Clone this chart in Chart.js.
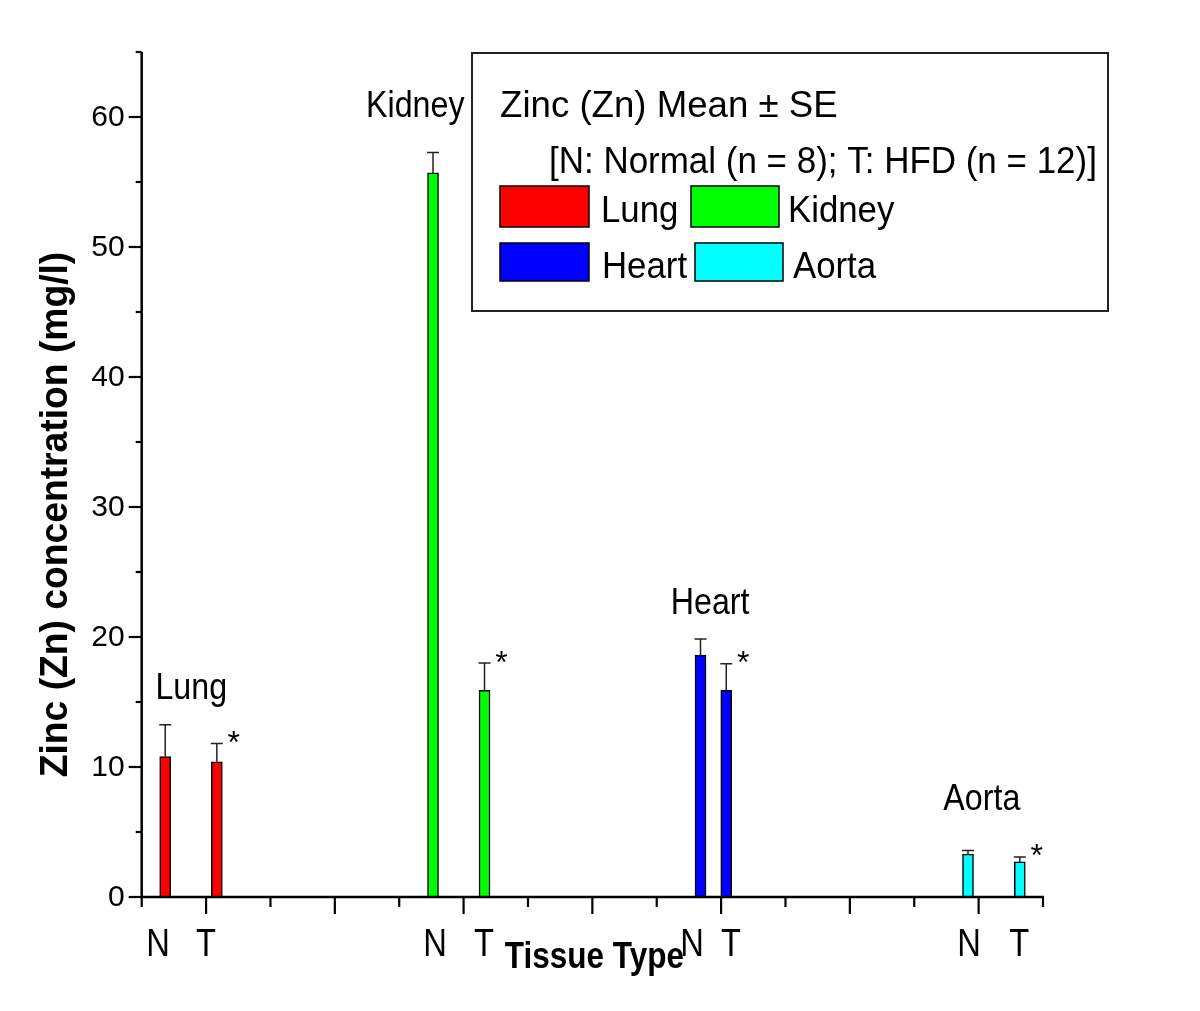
<!DOCTYPE html>
<html><head><meta charset="utf-8">
<script src="https://cdn.jsdelivr.net/npm/chart.js@4.4.1/dist/chart.umd.min.js"></script>
<style>html,body{margin:0;padding:0;background:#fff;}#wrap{width:1200px;height:1011px;}</style>
</head><body><div id="wrap"><canvas id="c" width="1200" height="1011"></canvas></div>
<script>
// ---- data ----
const tissues = ['Lung', 'Kidney', 'Heart', 'Aorta'];
const groupLabels = ['N', 'T'];
const barXN = [0.365, 4.525, 8.68, 12.835];     // x position (axis units) of N bars
const barXT = [1.167, 5.325, 9.08, 13.64];      // x position (axis units) of T bars
const meanN = [10.8, 55.7, 18.6, 3.3];
const meanT = [10.4, 15.9, 15.9, 2.7];
const seN = [2.45, 1.57, 1.25, 0.28];
const seT = [1.4, 2.1, 2.05, 0.38];
const sigT = [true, true, true, true];
const labelXN = [0.253, 4.556, 8.547, 12.85];
const labelXT = [1.0, 5.317, 9.153, 13.63];
const nameAnchorX = [0.77, 4.25, 8.83, 13.05];
const nameAnchorY = [15.2, 60.0, 21.8, 6.7];
const yTickValues = [0, 10, 20, 30, 40, 50, 60];
const legendTitle = 'Zinc (Zn) Mean \u00b1 SE';
const legendSub = '[N: Normal (n = 8); T: HFD (n = 12)]';
const yTitle = 'Zinc (Zn) concentration (mg/l)';
const xTitle = 'Tissue Type';
const colors = ['#ff0000', '#00ff00', '#0000ff', '#00ffff'];

const FAM = '"Liberation Sans", Arial, sans-serif';

function txt(ctx, s, x, y, font, align, sx, baseline) {
  ctx.save();
  ctx.font = font;
  ctx.fillStyle = '#000';
  ctx.textAlign = align || 'left';
  ctx.textBaseline = baseline || 'alphabetic';
  ctx.translate(x, y);
  ctx.scale(sx || 1, 1);
  ctx.fillText(s, 0, 0);
  ctx.restore();
}

const deco = {
  id: 'deco',
  afterDatasetsDraw(chart) {
    const ctx = chart.ctx;
    const xs = chart.scales.x, ys = chart.scales.y;
    const L = chart.chartArea.left, B = ys.getPixelForValue(0);
    const R = xs.getPixelForValue(xs.max), T = ys.getPixelForValue(ys.max);
    ctx.save();
    ctx.strokeStyle = '#000';
    ctx.lineWidth = 2.5;
    ctx.lineCap = 'butt';
    // axes
    ctx.beginPath();
    ctx.moveTo(L, T); ctx.lineTo(L, B + 1.2);
    ctx.moveTo(L - 1.2, B); ctx.lineTo(R + 1, B);
    ctx.stroke();
    // y ticks every 5
    ctx.lineWidth = 2.2;
    for (let v = 0; v <= ys.max; v += 5) {
      const y = ys.getPixelForValue(v);
      const len = (v % 10 === 0) ? 13 : 6;
      ctx.beginPath(); ctx.moveTo(L, y); ctx.lineTo(L - len, y); ctx.stroke();
    }
    // x ticks every 1
    for (let v = xs.min; v <= xs.max; v += 1) {
      const x = xs.getPixelForValue(v);
      const len = (v % 2 === 1) ? 17 : 10;
      ctx.beginPath(); ctx.moveTo(x, B); ctx.lineTo(x, B + len); ctx.stroke();
    }
    // y tick labels
    yTickValues.forEach(v => {
      txt(ctx, String(v), L - 17, ys.getPixelForValue(v) + 1, '30px ' + FAM, 'right', 1.0, 'middle');
    });
    // error bars + asterisks
    ctx.strokeStyle = '#222';
    ctx.lineWidth = 1.5;
    const drawErr = (x, m, e) => {
      const px = xs.getPixelForValue(x);
      const y0 = ys.getPixelForValue(m), y1 = ys.getPixelForValue(m + e);
      ctx.beginPath();
      ctx.moveTo(px, y0); ctx.lineTo(px, y1);
      ctx.moveTo(px - 6, y1); ctx.lineTo(px + 6, y1);
      ctx.stroke();
      return {px, y1};
    };
    tissues.forEach((t, i) => {
      drawErr(barXN[i], meanN[i], seN[i]);
      const p = drawErr(barXT[i], meanT[i], seT[i]);
      if (sigT[i]) {
        ctx.save();
        ctx.font = '32px ' + FAM;
        const m = ctx.measureText('*');
        const cy = p.y1 - 6.5;
        const by = cy + (m.actualBoundingBoxAscent - m.actualBoundingBoxDescent) / 2;
        ctx.restore();
        txt(ctx, '*', p.px + 17, by, '32px ' + FAM, 'center', 1);
      }
      // N / T labels
      txt(ctx, groupLabels[0], xs.getPixelForValue(labelXN[i]), B + 59, '38px ' + FAM, 'center', 0.86);
      txt(ctx, groupLabels[1], xs.getPixelForValue(labelXT[i]), B + 59, '38px ' + FAM, 'center', 0.86);
      // tissue names
      txt(ctx, t, xs.getPixelForValue(nameAnchorX[i]), ys.getPixelForValue(nameAnchorY[i]), '37px ' + FAM, 'center', 0.87);
    });
    // axis titles
    txt(ctx, xTitle, (L + R) / 2 + 2, B + 71, 'bold 36px ' + FAM, 'center', 0.875);
    ctx.save();
    ctx.translate(67, (T + B) / 2 + 40);
    ctx.rotate(-Math.PI / 2);
    txt(ctx, yTitle, 0, 0, 'bold 38px ' + FAM, 'center', 0.98);
    ctx.restore();
    // legend
    ctx.strokeStyle = '#222';
    ctx.lineWidth = 2;
    ctx.strokeRect(472, 53, 636, 258);
    txt(ctx, legendTitle, 500, 117, '37px ' + FAM, 'left', 0.99);
    txt(ctx, legendSub, 549, 173, '37px ' + FAM, 'left', 0.945);
    const sw = [[500, 186, 89, 41], [691, 186, 88, 41], [500, 243, 89, 38], [695, 243, 88, 38]];
    const tx = [[601, 222], [788, 222], [602, 278], [793, 278]];
    ctx.lineWidth = 1.5;
    ctx.strokeStyle = '#000';
    tissues.forEach((t, i) => {
      ctx.fillStyle = colors[i];
      ctx.fillRect(sw[i][0], sw[i][1], sw[i][2], sw[i][3]);
      ctx.strokeRect(sw[i][0], sw[i][1], sw[i][2], sw[i][3]);
      txt(ctx, t, tx[i][0], tx[i][1], '37px ' + FAM, 'left', 0.94);
    });
    ctx.restore();
  }
};

const datasets = tissues.map((t, i) => ({
  label: t,
  data: [{x: barXN[i], y: meanN[i]}, {x: barXT[i], y: meanT[i]}],
  backgroundColor: colors[i],
  borderColor: '#000',
  borderWidth: 1.5,
  borderSkipped: 'start',
  barThickness: 11,
  grouped: false
}));

new Chart(document.getElementById('c').getContext('2d'), {
  type: 'bar',
  data: {datasets},
  options: {
    responsive: false,
    animation: false,
    events: [],
    layout: {padding: {left: 0, right: 157, top: 52, bottom: 0}},
    plugins: {legend: {display: false}, tooltip: {enabled: false}},
    scales: {
      x: {type: 'linear', min: 0, max: 14, offset: false,
          grid: {display: false}, border: {display: false}, ticks: {display: false},
          afterFit(s) { s.height = 114; }},
      y: {type: 'linear', min: 0, max: 65,
          grid: {display: false}, border: {display: false}, ticks: {display: false},
          afterFit(s) { s.width = 141.7; }}
    }
  },
  plugins: [deco]
});
</script></body></html>
